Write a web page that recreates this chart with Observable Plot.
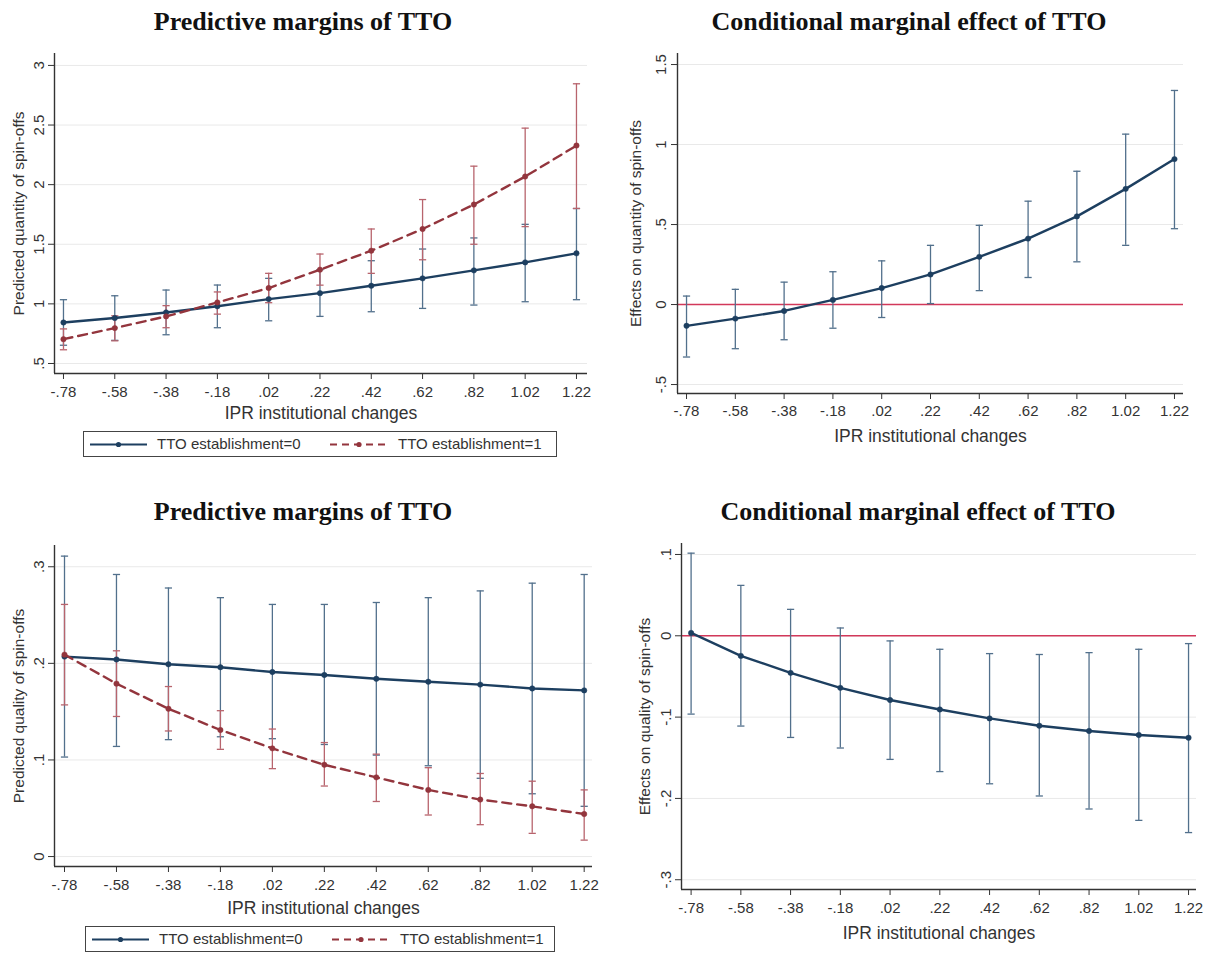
<!DOCTYPE html>
<html>
<head>
<meta charset="utf-8">
<script src="https://cdn.jsdelivr.net/npm/d3@7"></script>
<script src="https://cdn.jsdelivr.net/npm/@observablehq/plot@0.6"></script>
<style>
  body { margin: 0; background: #fff; }
  #root { position: relative; width: 1212px; height: 955px; overflow: hidden; background: #fff;
          font-family: "Liberation Sans", Arial, sans-serif; }
  .title { position: absolute; font-family: "Liberation Serif", "Times New Roman", serif; font-weight: bold;
           font-size: 26px; line-height: 26px; color: #111; white-space: nowrap; transform: translateX(-50%); }
  .panel { position: absolute; }
  .legend { position: absolute; border: 1.3px solid #444; box-sizing: border-box; height: 26px; background: #fff; }
  .legend svg { position: absolute; top: 0; left: 0; }
  .legend span { position: absolute; top: 4px; font-size: 15px; line-height: 16px; color: #333; white-space: nowrap; }
</style>
</head>
<body>
<div id="root"></div>
<script>
// ---------------- data ----------------
const xTicks = [-0.78, -0.58, -0.38, -0.18, 0.02, 0.22, 0.42, 0.62, 0.82, 1.02, 1.22];

// Top-left: Predictive margins (quantity)
const qtyTTO0   = [0.844, 0.881, 0.928, 0.980, 1.040, 1.090, 1.152, 1.214, 1.281, 1.348, 1.424];
const qtyTTO0Lo = [0.653, 0.694, 0.741, 0.800, 0.858, 0.895, 0.934, 0.962, 0.990, 1.018, 1.035];
const qtyTTO0Hi = [1.035, 1.068, 1.116, 1.158, 1.214, 1.287, 1.362, 1.460, 1.553, 1.667, 1.800];
const qtyTTO1   = [0.704, 0.797, 0.895, 1.012, 1.133, 1.287, 1.446, 1.628, 1.833, 2.068, 2.328];
const qtyTTO1Lo = [0.615, 0.690, 0.800, 0.914, 1.010, 1.157, 1.256, 1.370, 1.500, 1.648, 1.800];
const qtyTTO1Hi = [0.790, 0.900, 0.985, 1.100, 1.256, 1.418, 1.628, 1.875, 2.155, 2.474, 2.846];
const qtyYTicks = [0.5, 1, 1.5, 2, 2.5, 3];

// Top-right: Conditional marginal effect (quantity)
const effQty   = [-0.133, -0.088, -0.040, 0.029, 0.103, 0.188, 0.298, 0.412, 0.551, 0.723, 0.909];
const effQtyLo = [-0.328, -0.276, -0.220, -0.148, -0.081, 0.006, 0.087, 0.169, 0.267, 0.370, 0.474];
const effQtyHi = [0.053, 0.095, 0.140, 0.205, 0.273, 0.370, 0.495, 0.646, 0.833, 1.065, 1.338];
const effQtyYTicks = [-0.5, 0, 0.5, 1, 1.5];

// Bottom-left: Predictive margins (quality)
const qualTTO0   = [0.207, 0.204, 0.199, 0.196, 0.191, 0.188, 0.184, 0.181, 0.178, 0.174, 0.172];
const qualTTO0Lo = [0.103, 0.114, 0.121, 0.124, 0.122, 0.116, 0.105, 0.094, 0.081, 0.065, 0.052];
const qualTTO0Hi = [0.311, 0.292, 0.278, 0.268, 0.261, 0.261, 0.263, 0.268, 0.275, 0.283, 0.292];
const qualTTO1   = [0.209, 0.179, 0.153, 0.131, 0.112, 0.095, 0.082, 0.069, 0.059, 0.052, 0.044];
const qualTTO1Lo = [0.157, 0.145, 0.130, 0.111, 0.091, 0.073, 0.057, 0.043, 0.033, 0.024, 0.017];
const qualTTO1Hi = [0.261, 0.213, 0.176, 0.151, 0.132, 0.118, 0.106, 0.092, 0.086, 0.078, 0.069];
const qualYTicks = [0, 0.1, 0.2, 0.3];

// Bottom-right: Conditional marginal effect (quality)
const effQual   = [0.0035, -0.0247, -0.0456, -0.064, -0.079, -0.0906, -0.1016, -0.1106, -0.117, -0.122, -0.1254];
const effQualLo = [-0.0963, -0.111, -0.125, -0.138, -0.152, -0.167, -0.182, -0.197, -0.213, -0.227, -0.242];
const effQualHi = [0.1016, 0.062, 0.0325, 0.0096, -0.0063, -0.0166, -0.0219, -0.023, -0.0207, -0.0166, -0.0096];
const effQualYTicks = [-0.3, -0.2, -0.1, 0, 0.1];

const seriesNames = ["TTO establishment=0", "TTO establishment=1"];
const xTitle = "IPR institutional changes";

// ---------------- styling ----------------
const NAVY = "#1d3f60", NAVY_CI = "#52708c";
const MAROON = "#93353d", MAROON_CI = "#b8646d";
const ZERO = "#d2385a";
const AXIS = "#333";

const stataFmt = d => {
  let s = String(Math.round(d * 100) / 100);
  return s.replace(/^(-?)0\./, "$1.");
};

// horizontal cap symbol for error bars
const capSymbol = {
  draw(context, size) {
    const r = Math.sqrt(size / Math.PI);
    context.moveTo(-r, 0);
    context.lineTo(r, 0);
  }
};

function rows(v, lo, hi) {
  return xTicks.map((x, i) => ({x, y: v[i], lo: lo[i], hi: hi[i]}));
}

function makePanel(cfg) {
  const marks = [];
  marks.push(Plot.gridY(cfg.yTicks, {stroke: "#e9e9e9", strokeOpacity: 1, strokeWidth: 1}));
  if (cfg.zero) marks.push(Plot.ruleY([0], {stroke: ZERO, strokeWidth: 1.5}));
  for (const s of cfg.series) {
    marks.push(Plot.ruleX(s.data, {x: "x", y1: "lo", y2: "hi", stroke: s.ci, strokeWidth: 1.3}));
    marks.push(Plot.dot(s.data, {x: "x", y: "lo", symbol: capSymbol, r: 3.6, stroke: s.ci, strokeWidth: 1.3, fill: "none"}));
    marks.push(Plot.dot(s.data, {x: "x", y: "hi", symbol: capSymbol, r: 3.6, stroke: s.ci, strokeWidth: 1.3, fill: "none"}));
  }
  for (const s of cfg.series) {
    marks.push(Plot.line(s.data, {x: "x", y: "y", stroke: s.color, strokeWidth: 2.4, strokeDasharray: s.dash}));
    marks.push(Plot.dot(s.data, {x: "x", y: "y", r: 2.7, fill: s.color, stroke: s.color, strokeWidth: 0.5}));
  }
  // axis lines
  marks.push(Plot.ruleX([cfg.xDomain[0]], {stroke: AXIS, strokeWidth: 1.4}));
  marks.push(Plot.ruleY([cfg.yDomain[0]], {stroke: AXIS, strokeWidth: 1.4}));
  marks.push(Plot.axisX({ticks: xTicks, tickFormat: stataFmt, tickSize: 6, tickPadding: cfg.xPad,
                         fontSize: 15, label: null, stroke: AXIS, fill: "#333"}));
  marks.push(Plot.axisY({ticks: cfg.yTicks, tickFormat: stataFmt, tickSize: 6, tickPadding: cfg.yPad,
                         tickRotate: -90, fontSize: 15, label: null, stroke: AXIS, fill: "#333"}));
  // axis titles
  marks.push(Plot.text([xTitle], {frameAnchor: "bottom", text: d => d, dy: cfg.xTitleDy,
                                  textAnchor: "middle", lineAnchor: "middle", fontSize: 17.5, fill: "#333"}));
  marks.push(Plot.text([cfg.yTitle], {frameAnchor: "left", text: d => d, dx: cfg.yTitleDx, rotate: -90,
                                      textAnchor: "middle", lineAnchor: "middle", fontSize: 15.5, fill: "#333"}));

  const p = Plot.plot({
    width: cfg.width, height: cfg.height,
    marginLeft: cfg.m[3], marginRight: cfg.m[1], marginTop: cfg.m[0], marginBottom: cfg.m[2],
    x: {domain: cfg.xDomain},
    y: {domain: cfg.yDomain},
    style: {fontFamily: '"Liberation Sans", Arial, sans-serif', fontSize: "15px", color: "#333", background: "transparent", overflow: "visible"},
    marks
  });
  p.classList.add("panel");
  p.style.left = cfg.left + "px";
  p.style.top = cfg.top + "px";
  return p;
}

const root = document.getElementById("root");

function addTitle(text, cx, top) {
  const d = document.createElement("div");
  d.className = "title";
  d.textContent = text;
  d.style.left = cx + "px";
  d.style.top = top + "px";
  root.appendChild(d);
}

function addLegend(left, top, width) {
  const lg = document.createElement("div");
  lg.className = "legend";
  lg.style.left = left + "px";
  lg.style.top = top + "px";
  lg.style.width = width + "px";
  const ns = "http://www.w3.org/2000/svg";
  const svg = document.createElementNS(ns, "svg");
  svg.setAttribute("width", width);
  svg.setAttribute("height", 26);
  const items = [
    {x0: 6, x1: 63, color: NAVY, dash: null, tx: 73, name: seriesNames[0]},
    {x0: 246, x1: 304, color: MAROON, dash: "7,5", tx: 314, name: seriesNames[1]}
  ];
  for (const it of items) {
    const ln = document.createElementNS(ns, "line");
    ln.setAttribute("x1", it.x0); ln.setAttribute("x2", it.x1);
    ln.setAttribute("y1", 12.5); ln.setAttribute("y2", 12.5);
    ln.setAttribute("stroke", it.color); ln.setAttribute("stroke-width", 2.2);
    if (it.dash) ln.setAttribute("stroke-dasharray", it.dash);
    svg.appendChild(ln);
    const c = document.createElementNS(ns, "circle");
    c.setAttribute("cx", (it.x0 + it.x1) / 2); c.setAttribute("cy", 12.5); c.setAttribute("r", 2.6);
    c.setAttribute("fill", it.color);
    svg.appendChild(c);
    const sp = document.createElement("span");
    sp.textContent = it.name;
    sp.style.left = it.tx + "px";
    lg.appendChild(sp);
  }
  lg.appendChild(svg);
  root.appendChild(lg);
}

// ---------------- panels ----------------
// Top-left
root.appendChild(makePanel({
  left: 0, top: 40, width: 606, height: 400, m: [13, 19, 67, 54],
  xDomain: [-0.815, 1.263], yDomain: [0.416, 3.10], yTicks: qtyYTicks,
  xPad: 7, yPad: 4.5, xTitleDy: 40, yTitleDx: -35,
  yTitle: "Predicted quantity of spin-offs",
  series: [
    {data: rows(qtyTTO0, qtyTTO0Lo, qtyTTO0Hi), color: NAVY, ci: NAVY_CI, dash: null},
    {data: rows(qtyTTO1, qtyTTO1Lo, qtyTTO1Hi), color: MAROON, ci: MAROON_CI, dash: "9,6"}
  ]
}));

// Top-right
root.appendChild(makePanel({
  left: 606, top: 40, width: 606, height: 420, m: [13, 29, 67, 71],
  xDomain: [-0.817, 1.257], yDomain: [-0.556, 1.569], yTicks: effQtyYTicks, zero: true,
  xPad: 6, yPad: 5.5, xTitleDy: 43, yTitleDx: -41,
  yTitle: "Effects on quantity of spin-offs",
  series: [
    {data: rows(effQty, effQtyLo, effQtyHi), color: NAVY, ci: NAVY_CI, dash: null}
  ]
}));

// Bottom-left
root.appendChild(makePanel({
  left: 0, top: 490, width: 606, height: 465, m: [55, 14, 89, 54],
  xDomain: [-0.8185, 1.252], yDomain: [-0.0103, 0.322], yTicks: qualYTicks,
  xPad: 6.5, yPad: 4.5, xTitleDy: 42, yTitleDx: -35,
  yTitle: "Predicted quality of spin-offs",
  series: [
    {data: rows(qualTTO0, qualTTO0Lo, qualTTO0Hi), color: NAVY, ci: NAVY_CI, dash: null},
    {data: rows(qualTTO1, qualTTO1Lo, qualTTO1Hi), color: MAROON, ci: MAROON_CI, dash: "9,6"}
  ]
}));

// Bottom-right
root.appendChild(makePanel({
  left: 606, top: 490, width: 606, height: 465, m: [53, 16, 66, 75],
  xDomain: [-0.8186, 1.252], yDomain: [-0.312, 0.1135], yTicks: effQualYTicks, zero: true,
  xPad: 6.5, yPad: 5, xTitleDy: 44, yTitleDx: -36,
  yTitle: "Effects on quality of spin-offs",
  series: [
    {data: rows(effQual, effQualLo, effQualHi), color: NAVY, ci: NAVY_CI, dash: null}
  ]
}));

addTitle("Predictive margins of TTO", 303, 9);
addTitle("Conditional marginal effect of TTO", 909, 9);
addTitle("Predictive margins of TTO", 303, 499);
addTitle("Conditional marginal effect of TTO", 918, 499);

addLegend(83, 431, 474);
addLegend(85, 926, 470);
</script>
</body>
</html>
